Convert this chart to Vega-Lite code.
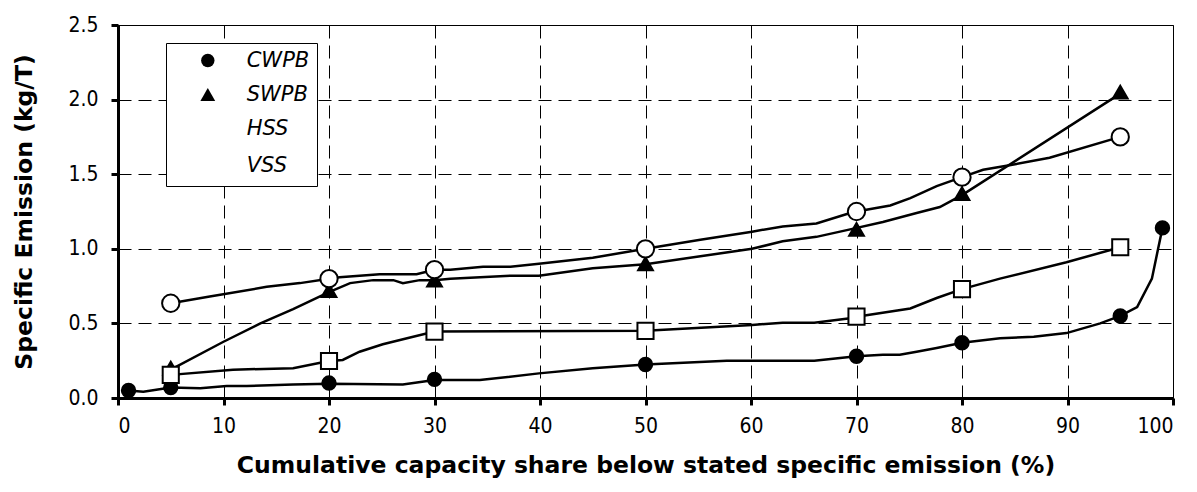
{
  "$schema": "https://vega.github.io/schema/vega-lite/v6.json",
  "autosize": {"type": "none"},
  "width": 1055,
  "height": 373,
  "padding": {"left": 118, "top": 25, "right": 24, "bottom": 94},
  "background": "white",
  "config": {
    "view": {"stroke": "black", "strokeWidth": 1},
    "axis": {
      "domainColor": "black", "domainWidth": 3,
      "tickColor": "black", "tickWidth": 3, "tickSize": 7,
      "gridColor": "black", "gridDash": [13, 7], "gridWidth": 1,
      "labelFont": "DejaVu Sans Condensed", "labelFontSize": 21, "labelColor": "black",
      "titleFont": "DejaVu Sans", "titleFontSize": 23.5, "titleFontWeight": "bold", "titleColor": "black"
    },
    "legend": {
      "orient": "none", "legendX": 48, "legendY": 18, "columns": 1,
      "padding": 7, "strokeColor": "black", "fillColor": "white",
      "rowPadding": 11, "symbolOffset": 24.3, "labelOffset": 28.4,
      "symbolStrokeColor": "black", "symbolStrokeWidth": 2,
      "labelFont": "DejaVu Sans", "labelFontSize": 21, "labelFontStyle": "italic", "labelColor": "black"
    }
  },
  "datasets": {
    "curves": [
      {"series": "CWPB", "x": 1, "y": 0.05}, {"series": "CWPB", "x": 2.4, "y": 0.042}, {"series": "CWPB", "x": 5, "y": 0.07},
      {"series": "CWPB", "x": 7.8, "y": 0.065}, {"series": "CWPB", "x": 10.3, "y": 0.08}, {"series": "CWPB", "x": 12.2, "y": 0.08},
      {"series": "CWPB", "x": 16.6, "y": 0.09}, {"series": "CWPB", "x": 20, "y": 0.095}, {"series": "CWPB", "x": 27, "y": 0.09},
      {"series": "CWPB", "x": 30, "y": 0.12}, {"series": "CWPB", "x": 34.3, "y": 0.12}, {"series": "CWPB", "x": 39.9, "y": 0.165},
      {"series": "CWPB", "x": 45, "y": 0.2}, {"series": "CWPB", "x": 50, "y": 0.225}, {"series": "CWPB", "x": 57.7, "y": 0.25},
      {"series": "CWPB", "x": 66, "y": 0.25}, {"series": "CWPB", "x": 70, "y": 0.28}, {"series": "CWPB", "x": 72.5, "y": 0.29},
      {"series": "CWPB", "x": 74.1, "y": 0.29}, {"series": "CWPB", "x": 75.7, "y": 0.31}, {"series": "CWPB", "x": 77.6, "y": 0.335},
      {"series": "CWPB", "x": 80, "y": 0.37}, {"series": "CWPB", "x": 83.6, "y": 0.4}, {"series": "CWPB", "x": 86.8, "y": 0.41},
      {"series": "CWPB", "x": 89.9, "y": 0.435}, {"series": "CWPB", "x": 93.1, "y": 0.5}, {"series": "CWPB", "x": 95, "y": 0.55},
      {"series": "CWPB", "x": 96.6, "y": 0.61}, {"series": "CWPB", "x": 98, "y": 0.8}, {"series": "CWPB", "x": 98.5, "y": 0.97},
      {"series": "CWPB", "x": 99, "y": 1.14},
      {"series": "SWPB", "x": 5, "y": 0.19}, {"series": "SWPB", "x": 10, "y": 0.377}, {"series": "SWPB", "x": 13.5, "y": 0.5},
      {"series": "SWPB", "x": 16.6, "y": 0.595}, {"series": "SWPB", "x": 20, "y": 0.71}, {"series": "SWPB", "x": 22, "y": 0.77},
      {"series": "SWPB", "x": 24.2, "y": 0.79}, {"series": "SWPB", "x": 26.1, "y": 0.79}, {"series": "SWPB", "x": 27, "y": 0.77},
      {"series": "SWPB", "x": 28.6, "y": 0.79}, {"series": "SWPB", "x": 30, "y": 0.79}, {"series": "SWPB", "x": 31.5, "y": 0.8},
      {"series": "SWPB", "x": 37.2, "y": 0.82}, {"series": "SWPB", "x": 39.9, "y": 0.82}, {"series": "SWPB", "x": 45, "y": 0.87},
      {"series": "SWPB", "x": 50, "y": 0.896}, {"series": "SWPB", "x": 55.2, "y": 0.95}, {"series": "SWPB", "x": 60.1, "y": 1.0},
      {"series": "SWPB", "x": 63, "y": 1.05}, {"series": "SWPB", "x": 66.2, "y": 1.08}, {"series": "SWPB", "x": 69.4, "y": 1.13},
      {"series": "SWPB", "x": 72.5, "y": 1.18}, {"series": "SWPB", "x": 75.7, "y": 1.24}, {"series": "SWPB", "x": 77.9, "y": 1.28},
      {"series": "SWPB", "x": 80, "y": 1.36}, {"series": "SWPB", "x": 95, "y": 2.04},
      {"series": "HSS", "x": 5, "y": 0.155}, {"series": "HSS", "x": 10.9, "y": 0.19}, {"series": "HSS", "x": 16.6, "y": 0.2},
      {"series": "HSS", "x": 20, "y": 0.248}, {"series": "HSS", "x": 21.3, "y": 0.255}, {"series": "HSS", "x": 22.9, "y": 0.31},
      {"series": "HSS", "x": 25.1, "y": 0.36}, {"series": "HSS", "x": 27.4, "y": 0.4}, {"series": "HSS", "x": 30, "y": 0.445},
      {"series": "HSS", "x": 50, "y": 0.45}, {"series": "HSS", "x": 60.1, "y": 0.49}, {"series": "HSS", "x": 63, "y": 0.505},
      {"series": "HSS", "x": 66, "y": 0.505}, {"series": "HSS", "x": 69.4, "y": 0.534}, {"series": "HSS", "x": 70, "y": 0.545},
      {"series": "HSS", "x": 75.1, "y": 0.6}, {"series": "HSS", "x": 77.6, "y": 0.67}, {"series": "HSS", "x": 80, "y": 0.73},
      {"series": "HSS", "x": 83.6, "y": 0.8}, {"series": "HSS", "x": 89.9, "y": 0.91}, {"series": "HSS", "x": 95, "y": 1.01},
      {"series": "VSS", "x": 5, "y": 0.635}, {"series": "VSS", "x": 8.7, "y": 0.68}, {"series": "VSS", "x": 14.1, "y": 0.745},
      {"series": "VSS", "x": 17.25, "y": 0.77}, {"series": "VSS", "x": 20, "y": 0.8}, {"series": "VSS", "x": 21, "y": 0.81},
      {"series": "VSS", "x": 24.8, "y": 0.83}, {"series": "VSS", "x": 28.3, "y": 0.83}, {"series": "VSS", "x": 30, "y": 0.86},
      {"series": "VSS", "x": 31.5, "y": 0.86}, {"series": "VSS", "x": 34.6, "y": 0.88}, {"series": "VSS", "x": 37.2, "y": 0.88},
      {"series": "VSS", "x": 39.9, "y": 0.9}, {"series": "VSS", "x": 45, "y": 0.94}, {"series": "VSS", "x": 50, "y": 1.0},
      {"series": "VSS", "x": 55.2, "y": 1.06}, {"series": "VSS", "x": 60.1, "y": 1.115}, {"series": "VSS", "x": 63, "y": 1.15},
      {"series": "VSS", "x": 66.2, "y": 1.17}, {"series": "VSS", "x": 69.4, "y": 1.24}, {"series": "VSS", "x": 70, "y": 1.25},
      {"series": "VSS", "x": 73.2, "y": 1.29}, {"series": "VSS", "x": 75.1, "y": 1.34}, {"series": "VSS", "x": 77.6, "y": 1.42},
      {"series": "VSS", "x": 80, "y": 1.48}, {"series": "VSS", "x": 82, "y": 1.53}, {"series": "VSS", "x": 84.5, "y": 1.56},
      {"series": "VSS", "x": 88.3, "y": 1.61}, {"series": "VSS", "x": 95, "y": 1.75}
    ],
    "markers": [
      {"series": "CWPB", "x": 1, "y": 0.05}, {"series": "CWPB", "x": 5, "y": 0.07}, {"series": "CWPB", "x": 20, "y": 0.1},
      {"series": "CWPB", "x": 30, "y": 0.125}, {"series": "CWPB", "x": 50, "y": 0.225}, {"series": "CWPB", "x": 70, "y": 0.28},
      {"series": "CWPB", "x": 80, "y": 0.37}, {"series": "CWPB", "x": 95, "y": 0.55}, {"series": "CWPB", "x": 99, "y": 1.14},
      {"series": "SWPB", "x": 5, "y": 0.2}, {"series": "SWPB", "x": 20, "y": 0.72}, {"series": "SWPB", "x": 30, "y": 0.79},
      {"series": "SWPB", "x": 50, "y": 0.9}, {"series": "SWPB", "x": 70, "y": 1.13}, {"series": "SWPB", "x": 80, "y": 1.37},
      {"series": "SWPB", "x": 95, "y": 2.05},
      {"series": "HSS", "x": 5, "y": 0.155}, {"series": "HSS", "x": 20, "y": 0.248}, {"series": "HSS", "x": 30, "y": 0.445},
      {"series": "HSS", "x": 50, "y": 0.45}, {"series": "HSS", "x": 70, "y": 0.545}, {"series": "HSS", "x": 80, "y": 0.73},
      {"series": "HSS", "x": 95, "y": 1.01},
      {"series": "VSS", "x": 5, "y": 0.635}, {"series": "VSS", "x": 20, "y": 0.8}, {"series": "VSS", "x": 30, "y": 0.86},
      {"series": "VSS", "x": 50, "y": 1.0}, {"series": "VSS", "x": 70, "y": 1.25}, {"series": "VSS", "x": 80, "y": 1.48},
      {"series": "VSS", "x": 95, "y": 1.75}
    ]
  },
  "encoding": {
    "x": {
      "field": "x", "type": "quantitative",
      "scale": {"domain": [0, 100], "nice": false, "zero": false},
      "axis": {
        "values": [0, 10, 20, 30, 40, 50, 60, 70, 80, 90, 100],
        "labelPadding": 10, "titlePadding": 17,
        "title": "Cumulative capacity share below stated specific emission (%)"
      }
    },
    "y": {
      "field": "y", "type": "quantitative",
      "scale": {"domain": [0, 2.5], "nice": false},
      "axis": {
        "values": [0, 0.5, 1, 1.5, 2, 2.5], "format": ".1f",
        "labelPadding": 13, "titlePadding": 31,
        "title": "Specific Emission (kg/T)"
      }
    }
  },
  "layer": [
    {
      "data": {"name": "curves"},
      "mark": {"type": "line", "stroke": "black", "strokeWidth": 2.5, "interpolate": "linear"},
      "encoding": {"detail": {"field": "series"}}
    },
    {
      "data": {"name": "markers"},
      "mark": {"type": "point", "filled": true, "stroke": "black", "strokeWidth": 2, "opacity": 1},
      "encoding": {
        "shape": {
          "field": "series", "type": "nominal",
          "scale": {"domain": ["CWPB", "SWPB", "HSS", "VSS"], "range": ["circle", "triangle-up", "square", "circle"]},
          "legend": {"title": null}
        },
        "fill": {
          "field": "series", "type": "nominal",
          "scale": {"domain": ["CWPB", "SWPB", "HSS", "VSS"], "range": ["black", "black", "white", "white"]},
          "legend": {"title": null}
        },
        "size": {
          "field": "series", "type": "nominal",
          "scale": {"domain": ["CWPB", "SWPB", "HSS", "VSS"], "range": [180, 300, 180, 180]},
          "legend": {"title": null}
        }
      }
    }
  ]
}
